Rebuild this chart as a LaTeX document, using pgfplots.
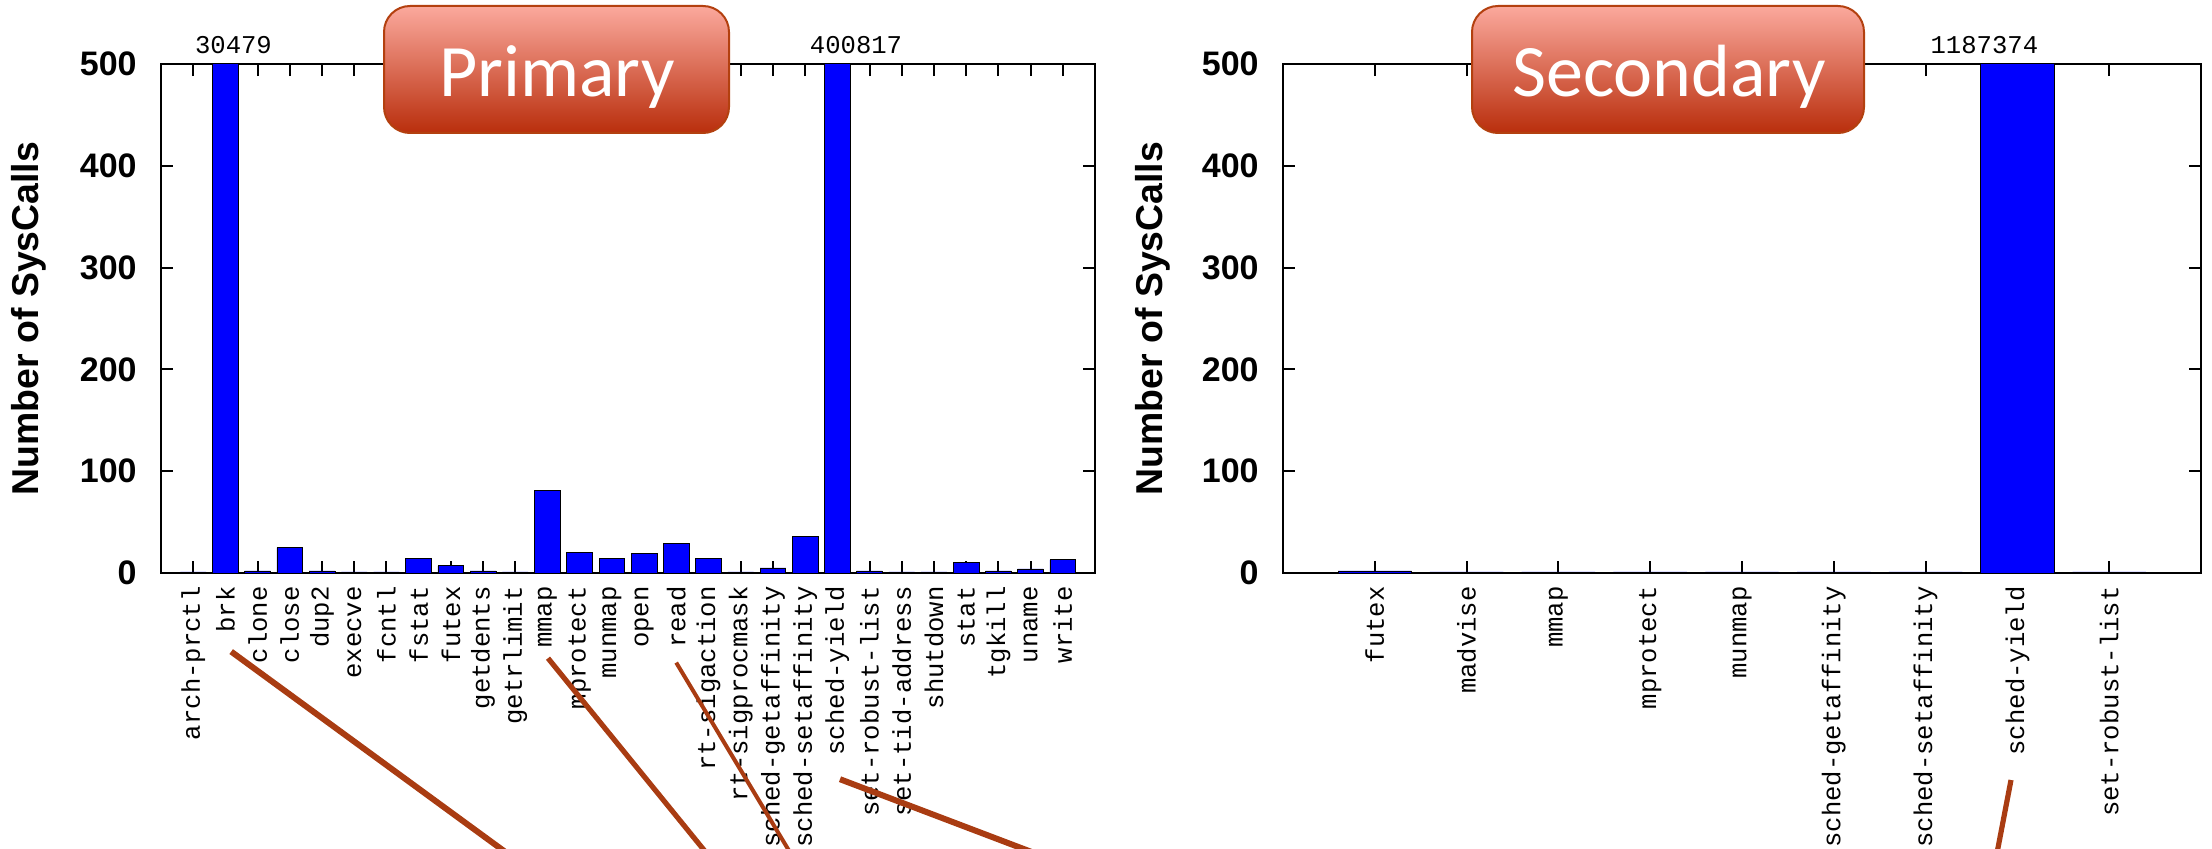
\documentclass[border=0pt]{standalone}
\usepackage{pgfplots}
\pgfplotsset{compat=1.18}
\usepackage{fontspec}
\setmainfont{Liberation Sans}
\newfontfamily\mono{Liberation Mono}
\newfontfamily\calib{Carlito}
\definecolor{barblue}{HTML}{0000FF}
\definecolor{callout}{HTML}{A93C12}
\definecolor{boxtop}{HTML}{FBA99D}
\definecolor{boxbot}{HTML}{B92E0C}
\definecolor{boxedge}{HTML}{B3400F}
\pgfplotsset{
  sysax/.style={
    scale only axis, height=254.5pt, anchor=south west,
    ymin=0, ymax=500, ytick={0,100,...,500},
    clip mode=individual,
    tick align=inside, xtick pos=both, ytick pos=both,
    major tick length=6pt,
    axis line style={line width=1.2pt},
    major x tick style={draw=none},
    major y tick style={draw=black, line width=1pt},
    xmajorgrids,
    major x grid style={draw=black, line width=1pt, solid, dash pattern=on 6pt off 242.5pt on 6pt off 400pt},
    /pgf/number format/assume math mode=true,
    yticklabel style={font=\bfseries\fontsize{17}{17}\selectfont, anchor=east, inner sep=0pt, xshift=-12pt},
    xticklabel style={font=\mono\fontsize{12.8}{12.8}\selectfont, rotate=90, anchor=east, inner xsep=6.5pt, inner ysep=0pt},
    ylabel={Number of SysCalls},
    ylabel style={font=\bfseries\fontsize{18.7}{18.7}\selectfont, at={(axis description cs:-0.142,0.5)}, anchor=center},
  },
  sysbar/.style={ybar, bar width=0.8, fill=barblue, draw=black, line width=0.4pt, restrict y to domain*=0:520},
}
\begin{document}
\begin{tikzpicture}
\useasboundingbox (0,0) rectangle (1106pt,424pt);
\begin{axis}[sysax, at={(80.5pt,137.5pt)}, width=467pt,
  xmin=-1, xmax=28, xtick={0,1,...,27},
  xticklabels={arch-prctl,brk,clone,close,dup2,execve,fcntl,fstat,futex,getdents,getrlimit,mmap,mprotect,munmap,open,read,rt-sigaction,rt-sigprocmask,sched-getaffinity,sched-setaffinity,sched-yield,set-robust-list,set-tid-address,shutdown,stat,tgkill,uname,write}]
\addplot[sysbar] coordinates {
 (0,1) (1,30479) (2,2) (3,25) (4,2) (5,1) (6,1) (7,14) (8,7) (9,2)
 (10,1) (11,81) (12,20) (13,14) (14,19) (15,29) (16,14) (17,1) (18,5) (19,36)
 (20,400817) (21,2) (22,1) (23,1) (24,10) (25,2) (26,4) (27,13)};
\node[font=\mono\fontsize{12.8}{12.8}\selectfont, anchor=base, yshift=5.5pt, inner sep=0pt] at (axis cs:1.25,500) {30479};
\node[font=\mono\fontsize{12.8}{12.8}\selectfont, anchor=base, yshift=5.5pt, inner sep=0pt] at (axis cs:20.58,500) {400817};
\end{axis}
\begin{axis}[sysax, at={(641.5pt,137.5pt)}, width=459pt,
  xmin=-1, xmax=9, xtick={0,1,...,8},
  xticklabels={futex,madvise,mmap,mprotect,munmap,sched-getaffinity,sched-setaffinity,sched-yield,set-robust-list}]
\addplot[sysbar] coordinates {
 (0,2) (1,1) (2,1) (3,1) (4,1) (5,1) (6,1) (7,1187374) (8,1)};
\node[font=\mono\fontsize{12.8}{12.8}\selectfont, anchor=base, yshift=5.5pt, inner sep=0pt] at (axis cs:6.64,500) {1187374};
\end{axis}
% callout boxes
\path[top color=boxtop, bottom color=boxbot, draw=boxedge, line width=1pt, rounded corners=13pt]
  (192pt,357.5pt) rectangle (364.5pt,421pt);
\node[font=\calib\fontsize{37}{37}\selectfont, text=white, anchor=base, inner sep=0pt] at (278.5pt,375.5pt) {Primary};
\path[top color=boxtop, bottom color=boxbot, draw=boxedge, line width=1pt, rounded corners=13pt]
  (736pt,357.5pt) rectangle (932pt,421pt);
\node[font=\calib\fontsize{37}{37}\selectfont, text=white, anchor=base, inner sep=0pt] at (834.5pt,375.5pt) {Secondary};
% annotation lines
\draw[callout, line width=3pt] (115.6pt,98.2pt) -- (285.5pt,-26pt);
\draw[callout, line width=2.6pt] (274pt,94.9pt) -- (372.3pt,-26pt);
\draw[callout, line width=2pt] (338.1pt,92.7pt) -- (409.3pt,-26pt);
\draw[callout, line width=3pt] (420pt,34.4pt) -- (579pt,-26pt);
\draw[callout, line width=2.6pt] (1005.5pt,34pt) -- (994pt,-26pt);
\end{tikzpicture}
\end{document}
